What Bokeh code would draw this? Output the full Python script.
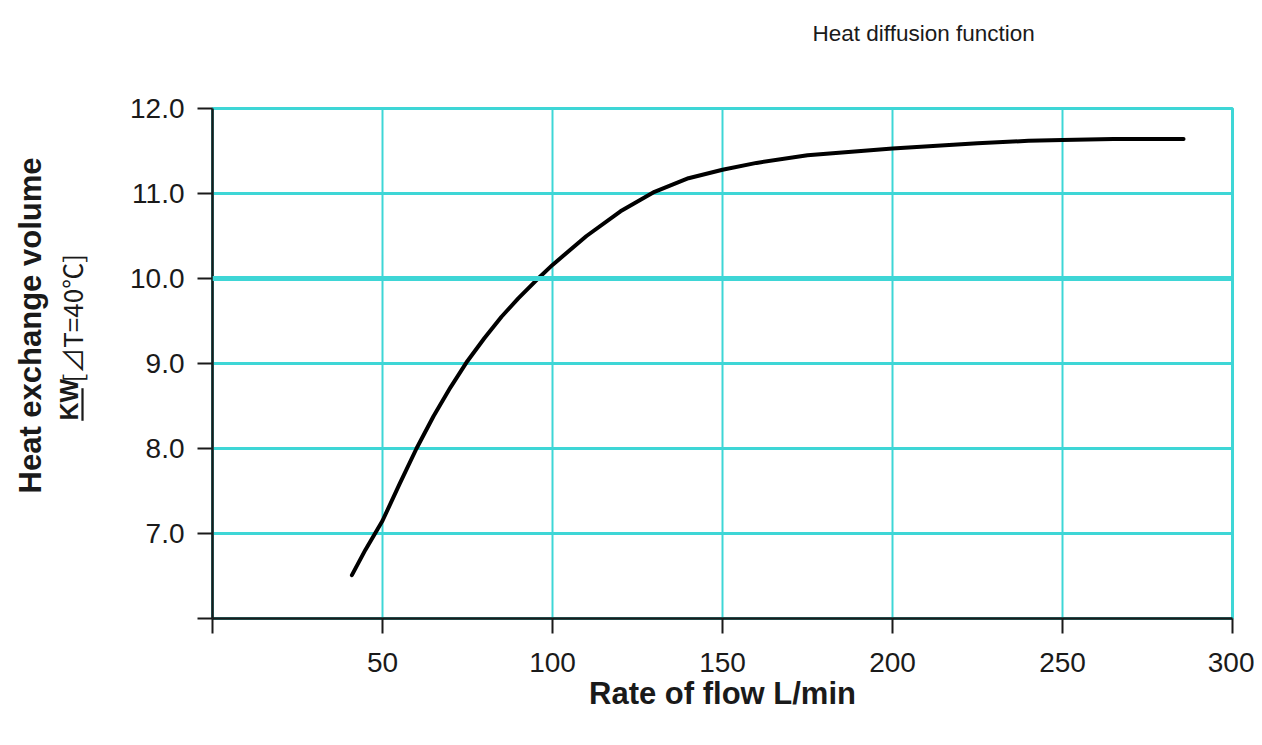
import math
from bokeh.plotting import figure
from bokeh.models import Range1d, FixedTicker, Label, Span
from bokeh.embed import file_html
from bokeh.resources import INLINE

# ---- data ----
flow = [41, 45, 50, 55, 60, 65, 70, 75, 80, 85, 90, 95, 100, 110, 120, 130,
        140, 150, 160, 175, 200, 225, 240, 250, 265, 285.6]
heat = [6.51, 6.81, 7.15, 7.58, 8.0, 8.38, 8.72, 9.03, 9.30, 9.55, 9.77, 9.97,
        10.16, 10.50, 10.79, 11.02, 11.18, 11.28, 11.36, 11.45, 11.53, 11.59,
        11.62, 11.63, 11.64, 11.64]
x_ticks = [0, 50, 100, 150, 200, 250, 300]
y_ticks = [6, 7, 8, 9, 10, 11, 12]
y_tick_labels = ["", "7.0", "8.0", "9.0", "10.0", "11.0", "12.0"]
x_tick_labels = ["", "50", "100", "150", "200", "250", "300"]

title_text = "Heat diffusion function"
x_label = "Rate of flow L/min"
y_label = "Heat exchange volume"
y_unit = "KW"
y_cond = "[⊿T=40℃]"

GRID = "#3ed6d6"
FONT = "Liberation Sans"
INK = "#1a1a1a"

p = figure(width=1254, height=737, output_backend="svg", toolbar_location=None,
           x_range=Range1d(0, 300), y_range=Range1d(6, 12), title=None,
           min_border_left=212, min_border_right=22, min_border_top=108,
           min_border_bottom=119)
p.outline_line_color = GRID
p.outline_line_width = 3
p.background_fill_color = "white"
p.border_fill_color = "white"

# axes
for ax in (p.xaxis[0], p.yaxis[0]):
    ax.axis_line_color = INK
    ax.axis_line_width = 2.5
    ax.major_tick_line_color = INK
    ax.major_tick_line_width = 2
    ax.major_tick_in = 0
    ax.major_tick_out = 15
    ax.minor_tick_line_color = None
    ax.major_label_text_font = FONT
    ax.major_label_text_font_size = "28px"
    ax.major_label_text_color = INK

p.xaxis[0].ticker = FixedTicker(ticks=x_ticks)
p.yaxis[0].ticker = FixedTicker(ticks=y_ticks)
p.xaxis[0].major_label_overrides = {t: s for t, s in zip(x_ticks, x_tick_labels)}
p.yaxis[0].major_label_overrides = {t: s for t, s in zip(y_ticks, y_tick_labels)}
p.xaxis[0].major_label_standoff = 19
p.yaxis[0].major_label_standoff = 13

# grid
p.xgrid.grid_line_color = GRID
p.xgrid.grid_line_width = 2
p.ygrid.grid_line_color = GRID
p.ygrid.grid_line_width = 3
p.add_layout(Span(location=10, dimension="width", line_color=GRID, line_width=5))

# curve
p.line(flow, heat, line_color="black", line_width=4, line_join="round",
       line_cap="round")

# texts, positioned with the chart's own scales, held in side panels so
# they are not clipped to the plotting frame (panels chosen so that none
# of them grows past its border)
def dx(px):
    return (px - 212) / 3.4

def dy(py):
    return 12 - (py - 108) / 85.0

p.add_layout(Label(x=dx(812), y=dy(33), text=title_text, text_font=FONT,
                   text_font_size="22.5px", text_align="left",
                   text_baseline="middle", text_color=INK), "above")
p.add_layout(Label(x=dx(722), y=dy(693), text=x_label, text_font=FONT,
                   text_font_size="31px", text_font_style="bold",
                   text_align="center", text_baseline="middle",
                   text_color=INK), "below")
p.add_layout(Label(x=dx(30), y=dy(325), text=y_label, text_font=FONT,
                   text_font_size="31px", text_font_style="bold",
                   text_align="center", text_baseline="middle",
                   angle=math.pi / 2, text_color=INK), "left")
p.add_layout(Label(x=dx(68), y=dy(420), text=y_unit, text_font=FONT,
                   text_font_size="25px", text_font_style="bold",
                   text_align="left", text_baseline="middle",
                   angle=math.pi / 2, text_color=INK), "above")
p.add_layout(Label(x=dx(71), y=dy(382), text=y_cond,
                   text_font="Noto Sans CJK JP",
                   text_font_size="26px", text_align="left",
                   text_baseline="middle", angle=math.pi / 2,
                   text_color=INK), "left")
# underline of the unit
p.add_layout(Label(x=dx(82), y=dy(404), text=" ", text_font=FONT,
                   text_font_size="2px", text_align="center",
                   text_baseline="middle", angle=math.pi / 2,
                   background_fill_color=INK, background_fill_alpha=1.0,
                   padding=dict(left=16, right=16, top=0, bottom=0)), "below")

open("out.html", "w").write(file_html(p, INLINE))
